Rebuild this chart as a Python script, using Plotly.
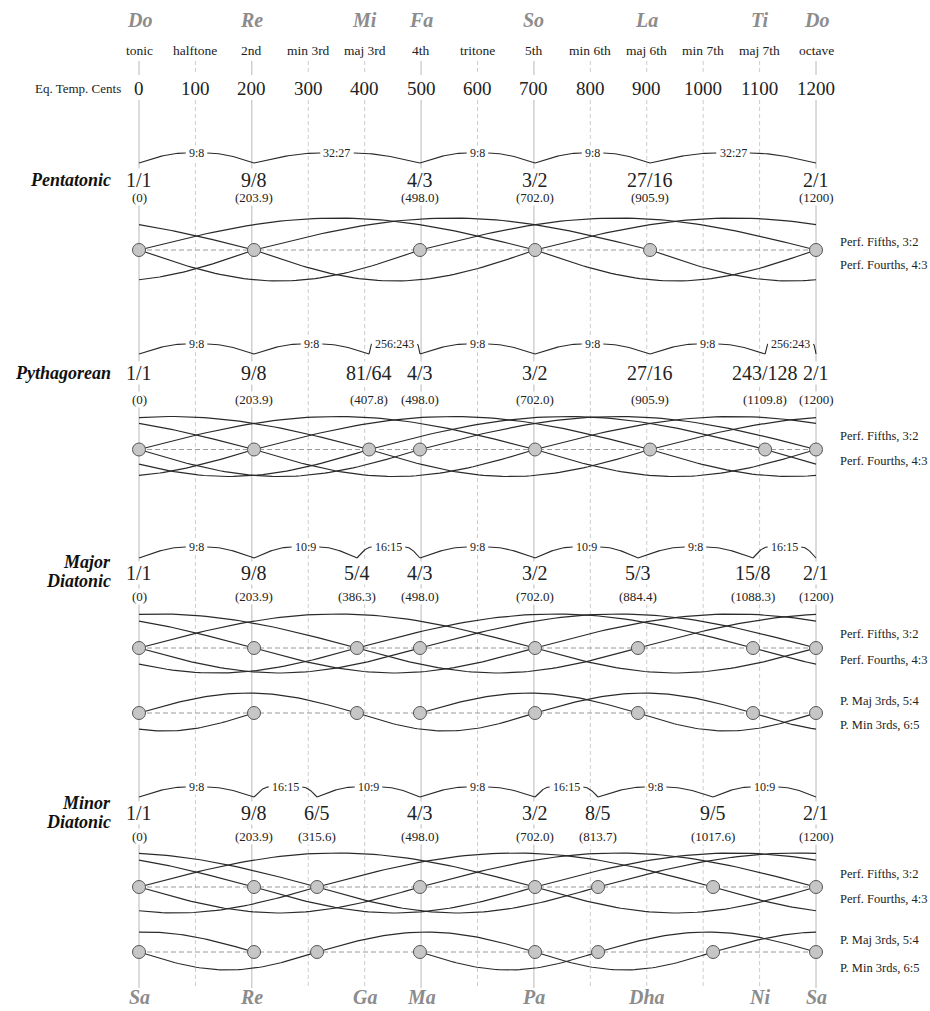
import numpy as np
import plotly.graph_objects as go

# header rows
solfege = ["Do", "Re", "Mi", "Fa", "So", "La", "Ti", "Do"]
sargam = ["Sa", "Re", "Ga", "Ma", "Pa", "Dha", "Ni", "Sa"]
syllable_cents = [0, 200, 400, 500, 700, 900, 1100, 1200]
interval_names = ["tonic", "halftone", "2nd", "min 3rd", "maj 3rd", "4th", "tritone",
                  "5th", "min 6th", "maj 6th", "min 7th", "maj 7th", "octave"]
et_cents = [0, 100, 200, 300, 400, 500, 600, 700, 800, 900, 1000, 1100, 1200]
solid_cents = [0, 200, 500, 700, 1200]

# scales
penta_ratios = ["1/1", "9/8", "4/3", "3/2", "27/16", "2/1"]
penta_cents = [0, 203.9, 498.0, 702.0, 905.9, 1200]
penta_steps = ["9:8", "32:27", "9:8", "9:8", "32:27"]

pyth_ratios = ["1/1", "9/8", "81/64", "4/3", "3/2", "27/16", "243/128", "2/1"]
pyth_cents = [0, 203.9, 407.8, 498.0, 702.0, 905.9, 1109.8, 1200]
pyth_steps = ["9:8", "9:8", "256:243", "9:8", "9:8", "9:8", "256:243"]

major_ratios = ["1/1", "9/8", "5/4", "4/3", "3/2", "5/3", "15/8", "2/1"]
major_cents = [0, 203.9, 386.3, 498.0, 702.0, 884.4, 1088.3, 1200]
major_steps = ["9:8", "10:9", "16:15", "9:8", "10:9", "9:8", "16:15"]

minor_ratios = ["1/1", "9/8", "6/5", "4/3", "3/2", "8/5", "9/5", "2/1"]
minor_cents = [0, 203.9, 315.6, 498.0, 702.0, 813.7, 1017.6, 1200]
minor_steps = ["9:8", "16:15", "10:9", "9:8", "16:15", "9:8", "10:9"]

# intervals used for the arcs (cents)
fifth, fourth, maj3, min3 = 702.0, 498.0, 386.3, 315.6

W, H = 930, 1011
X0, X1 = 139, 816          # pixel positions of 0 and 1200 cents
K = (X1 - X0) / 1200.0
SERIF = "Liberation Serif"
GREY = "#8c8c8c"


def paper_x(px):
    return px / W


fig = go.Figure()
ann = []
shapes = []

# vertical guide lines
for c in et_cents:
    solid = c in solid_cents
    style = dict(color="#b8b8b8" if solid else "#cdcdcd", width=1,
                 dash="solid" if solid else "4px,3px")
    for y0, y1 in [(61, 75), (100, 988)]:
        shapes.append(dict(type="line", xref="x", yref="y", x0=c, x1=c, y0=y0, y1=y1,
                           line=style, layer="below"))

for name, c in zip(solfege, syllable_cents):
    ann.append(dict(x=c, y=20, text=f"<b><i>{name}</i></b>",
                    font=dict(family=SERIF, size=20, color=GREY)))
for name, c in zip(sargam, syllable_cents):
    ann.append(dict(x=c, y=997, text=f"<b><i>{name}</i></b>",
                    font=dict(family=SERIF, size=20, color=GREY)))
for name, c in zip(interval_names, et_cents):
    ann.append(dict(x=c, y=50, text=name, font=dict(family=SERIF, size=13.5, color="#222")))
for c in et_cents:
    ann.append(dict(x=c, y=88, text=str(c), font=dict(family=SERIF, size=19, color="#222")))
ann.append(dict(x=paper_x(123), xref="paper", y=88, xanchor="right", text="Eq. Temp. Cents",
                font=dict(family=SERIF, size=13, color="#222")))


def cents_label(c):
    if c == 0 or c == 1200:
        return f"({int(c)})"
    return f"({c:.1f})"


def arc_trace(cents, interval, base, amp, sign):
    xs, ys = [], []
    for a in cents[:-1]:
        b = a + interval
        bw = b - 1200 if b > 1200.5 else b
        if not any(abs(bw - c) < 0.6 for c in cents):
            continue
        if b > 1200.5:
            tc = (1200 - a) / interval
            parts = [(np.linspace(0, tc, 40), 0), (np.linspace(tc, 1, 40), 1200)]
        else:
            parts = [(np.linspace(0, 1, 60), 0)]
        for t, shift in parts:
            xs += list(a + t * interval - shift) + [None]
            ys += list(base - sign * amp * np.sin(np.pi * t)) + [None]
    return go.Scatter(x=xs, y=ys, mode="lines", line=dict(color="#2a2a2a", width=1.2),
                      hoverinfo="skip", showlegend=False)


def brace_traces(cents, steps, y_top, y_low):
    xs, ys = [], []
    for i, lab in enumerate(steps):
        a, b = cents[i], cents[i + 1]
        mid = (a + b) / 2
        nd = sum(ch.isdigit() for ch in lab)
        half_px = (nd * 6.0 + 3.5) / 2 + 3
        hw = half_px / K
        left_end = max(a + 1, mid - hw)
        right_end = min(b - 1, mid + hw)
        t = np.linspace(0, 1, 30)
        xs += list(a + t * (left_end - a)) + [None]
        ys += list(y_low - (y_low - y_top) * np.sin(t * np.pi / 2)) + [None]
        xs += list(right_end + t * (b - right_end)) + [None]
        ys += list(y_top + (y_low - y_top) * (1 - np.cos(t * np.pi / 2))) + [None]
        ann.append(dict(x=mid, y=y_top, text=lab, bgcolor="white", borderpad=0,
                        font=dict(family=SERIF, size=12, color="#222")))
    return go.Scatter(x=xs, y=ys, mode="lines", line=dict(color="#2a2a2a", width=1.1),
                      hoverinfo="skip", showlegend=False)


scales = [
    dict(name=["Pentatonic"], name_y=[180], cents=penta_cents, ratios=penta_ratios,
         steps=penta_steps, brace=(153, 163), ratio_y=180, cents_y=197,
         rows=[(250, (fifth, 32), (fourth, 31), ("Perf. Fifths, 3:2", 242), ("Perf. Fourths, 4:3", 265))]),
    dict(name=["Pythagorean"], name_y=[373], cents=pyth_cents, ratios=pyth_ratios,
         steps=pyth_steps, brace=(344, 354), ratio_y=373, cents_y=399,
         rows=[(449.5, (fifth, 33), (fourth, 27), ("Perf. Fifths, 3:2", 436), ("Perf. Fourths, 4:3", 461))]),
    dict(name=["Major", "Diatonic"], name_y=[562, 581], cents=major_cents, ratios=major_ratios,
         steps=major_steps, brace=(547, 558), ratio_y=573, cents_y=596,
         rows=[(648, (fifth, 34), (fourth, 25), ("Perf. Fifths, 3:2", 634), ("Perf. Fourths, 4:3", 660)),
               (713, (maj3, 20), (min3, 18), ("P. Maj 3rds, 5:4", 701), ("P. Min 3rds, 6:5", 725))]),
    dict(name=["Minor", "Diatonic"], name_y=[803, 822], cents=minor_cents, ratios=minor_ratios,
         steps=minor_steps, brace=(787, 797), ratio_y=813, cents_y=836,
         rows=[(887, (fifth, 34), (fourth, 26), ("Perf. Fifths, 3:2", 874), ("Perf. Fourths, 4:3", 899)),
               (952, (maj3, 20), (min3, 18), ("P. Maj 3rds, 5:4", 940), ("P. Min 3rds, 6:5", 968))]),
]

for s in scales:
    for line, y in zip(s["name"], s["name_y"]):
        ann.append(dict(x=paper_x(113), xref="paper", y=y, xanchor="right",
                        text=f"<b><i>{line}</i></b>",
                        font=dict(family=SERIF, size=18, color="#111")))
    for r, c in zip(s["ratios"], s["cents"]):
        ann.append(dict(x=c, y=s["ratio_y"], text=r, bgcolor="white", borderpad=0,
                        font=dict(family=SERIF, size=20, color="#222")))
        ann.append(dict(x=c, y=s["cents_y"], text=cents_label(c), bgcolor="white", borderpad=0,
                        font=dict(family=SERIF, size=13, color="#222")))
    fig.add_trace(brace_traces(s["cents"], s["steps"], *s["brace"]))
    for base, up, down, lab_up, lab_down in s["rows"]:
        shapes.append(dict(type="line", xref="x", yref="y", x0=0, x1=1200, y0=base, y1=base,
                           line=dict(color="#9a9a9a", width=1, dash="5px,3px"), layer="below"))
        fig.add_trace(arc_trace(s["cents"], up[0], base, up[1], 1))
        fig.add_trace(arc_trace(s["cents"], down[0], base, down[1], -1))
        fig.add_trace(go.Scatter(x=s["cents"], y=[base] * len(s["cents"]), mode="markers",
                                 marker=dict(size=13, color="#c6c6c6",
                                             line=dict(color="#555", width=1)),
                                 hoverinfo="skip", showlegend=False))
        for text, y in (lab_up, lab_down):
            ann.append(dict(x=paper_x(838), xref="paper", y=y, xanchor="left", text=text,
                            font=dict(family=SERIF, size=12.5, color="#222")))

for a in ann:
    a.setdefault("xref", "x")
    a["yref"] = "y"
    a["showarrow"] = False

fig.update_layout(
    width=W, height=H, margin=dict(l=0, r=0, t=0, b=0),
    paper_bgcolor="white", plot_bgcolor="white",
    xaxis=dict(range=[-X0 / K, (W - X0) / K], visible=False, fixedrange=True),
    yaxis=dict(range=[H, 0], visible=False, fixedrange=True),
    annotations=ann, shapes=shapes, showlegend=False,
)
fig.write_html("out.html", config={"displayModeBar": False},
               post_script="document.body.style.margin='0';document.body.style.overflow='hidden';")
